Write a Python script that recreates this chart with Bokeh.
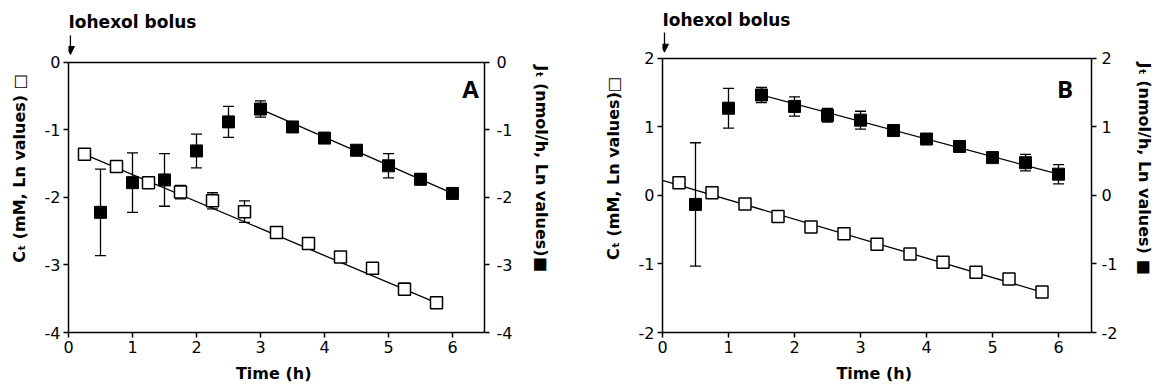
from bokeh.plotting import figure
from bokeh.models import (Range1d, LinearAxis, Whisker, TeeHead, ColumnDataSource,
                          Arrow, NormalHead, FixedTicker, Span, PrintfTickFormatter)
from bokeh.core.properties import value
from bokeh.layouts import row
from bokeh.embed import file_html
from bokeh.resources import INLINE

# ---------------- data ----------------
time_c = [0.25, 0.75, 1.25, 1.75, 2.25, 2.75, 3.25, 3.75, 4.25, 4.75, 5.25, 5.75]
time_j = [0.5, 1.0, 1.5, 2.0, 2.5, 3.0, 3.5, 4.0, 4.5, 5.0, 5.5, 6.0]

# Panel A
a_c = [-1.36, -1.54, -1.78, -1.92, -2.05, -2.21, -2.52, -2.68, -2.88, -3.05, -3.36, -3.56]
a_c_err = [0.03, 0.03, 0.03, 0.10, 0.12, 0.16, 0.07, 0.08, 0.03, 0.03, 0.09, 0.04]
a_j = [-2.22, -1.78, -1.74, -1.31, -0.88, -0.69, -0.955, -1.12, -1.30, -1.53, -1.73, -1.94]
a_j_err = [0.64, 0.44, 0.39, 0.25, 0.23, 0.12, 0.08, 0.04, 0.07, 0.18, 0.08, 0.03]
a_fit_c_x = [0.25, 5.75]
a_fit_c_y = [-1.36, -3.56]
a_fit_j_x = [3.0, 6.0]
a_fit_j_y = [-0.69, -1.94]

# Panel B
b_c = [0.187, 0.04, -0.124, -0.307, -0.46, -0.56, -0.71, -0.855, -0.973, -1.12, -1.22, -1.41]
b_c_err = [0.03, 0.03, 0.03, 0.03, 0.03, 0.03, 0.03, 0.03, 0.03, 0.03, 0.03, 0.05]
b_j = [-0.13, 1.274, 1.467, 1.30, 1.17, 1.10, 0.948, 0.824, 0.716, 0.553, 0.479, 0.311]
b_j_err = [0.90, 0.29, 0.11, 0.14, 0.10, 0.13, 0.07, 0.04, 0.03, 0.03, 0.12, 0.14]
b_fit_c_x = [0.0, 5.75]
b_fit_c_y = [0.22, -1.41]
b_fit_j_x = [1.5, 6.0]
b_fit_j_y = [1.467, 0.311]

x_ticks = [0, 1, 2, 3, 4, 5, 6]
a_y_ticks = [-4, -3, -2, -1, 0]
b_y_ticks = [-2, -1, 0, 1, 2]

FONT = "DejaVu Sans"


def style_axis(ax, label, label_standoff, tick_standoff):
    ax.axis_label = label
    ax.axis_label_text_font = FONT
    ax.axis_label_text_font_style = "bold"
    ax.axis_label_text_font_size = "16px"
    ax.axis_label_text_color = "black"
    ax.axis_label_standoff = label_standoff
    ax.major_label_text_font = FONT
    ax.major_label_text_font_size = "16px"
    ax.major_label_text_color = "black"
    ax.major_label_standoff = tick_standoff
    ax.axis_line_width = 1.5
    ax.axis_line_color = "black"
    ax.major_tick_line_width = 1.5
    ax.major_tick_line_color = "black"
    ax.major_tick_in = 0
    ax.major_tick_out = 5
    ax.minor_tick_line_color = None
    ax.formatter = PrintfTickFormatter(format="%d")


def make_panel(width, c, c_err, j, j_err, fcx, fcy, fjx, fjy, y_lo, y_top, y_hi, yticks,
               borders, left_label, right_label, lstand, rstand, rtick,
               letter, letter_xy, bolus_y, arrow_y):
    bl, br, bt, bb = borders
    p = figure(width=width, height=388, x_range=Range1d(0, 6.5),
               y_range=Range1d(y_lo, y_hi), output_backend="svg",
               toolbar_location=None, min_border_left=bl, min_border_right=br,
               min_border_top=bt, min_border_bottom=bb)
    p.xgrid.visible = False
    p.ygrid.visible = False
    p.outline_line_color = None
    p.background_fill_color = "white"
    p.border_fill_color = "white"

    p.xaxis.ticker = FixedTicker(ticks=x_ticks)
    p.yaxis.ticker = FixedTicker(ticks=yticks)
    style_axis(p.xaxis[0], "Time  (h)", 8, 3)
    style_axis(p.yaxis[0], left_label, lstand, 3)
    p.yaxis[0].bounds = (y_lo, y_top)

    rax = LinearAxis(ticker=FixedTicker(ticks=yticks), bounds=(y_lo, y_top))
    style_axis(rax, right_label, rstand, rtick)
    p.add_layout(rax, "right")

    # top frame line
    p.add_layout(Span(location=y_top, dimension="width", line_color="black",
                      line_width=1.5))

    # error bars
    src_c = ColumnDataSource(dict(x=time_c, y=c,
                                  u=[v + e for v, e in zip(c, c_err)],
                                  l=[v - e for v, e in zip(c, c_err)]))
    src_j = ColumnDataSource(dict(x=time_j, y=j,
                                  u=[v + e for v, e in zip(j, j_err)],
                                  l=[v - e for v, e in zip(j, j_err)]))
    for src in (src_c, src_j):
        w = Whisker(base="x", upper="u", lower="l", source=src, dimension="height",
                    line_width=1.3, line_color="black",
                    upper_head=TeeHead(size=11, line_width=1.3, line_color="black"),
                    lower_head=TeeHead(size=11, line_width=1.3, line_color="black"))
        p.add_layout(w)

    # fit lines
    p.line(fcx, fcy, line_color="black", line_width=1.3)
    p.line(fjx, fjy, line_color="black", line_width=1.3)

    # markers
    p.scatter("x", "y", source=src_j, marker="square", size=12,
              fill_color="black", line_color="black", line_width=1)
    p.scatter("x", "y", source=src_c, marker="square", size=12,
              fill_color="white", line_color="black", line_width=1.5)

    # panel letter
    p.text(x=[letter_xy[0]], y=[letter_xy[1]], text=[letter],
           text_font=value("Open Sans"), text_font_style="bold",
           text_font_size="24px", text_align="center",
           text_baseline="middle", text_color="black")

    # bolus annotation
    p.text(x=[0], y=[bolus_y], text=["Iohexol bolus"],
           text_font=value(FONT), text_font_style="bold",
           text_font_size="17px", text_align="left",
           text_baseline="middle", text_color="black")
    p.add_layout(Arrow(x_start=0.03, y_start=arrow_y[0], x_end=0.03, y_end=arrow_y[1],
                       line_width=1.3, line_color="black",
                       end=NormalHead(size=8, fill_color="black", line_color="black")))
    return p


pa = make_panel(580, a_c, a_c_err, a_j, a_j_err, a_fit_c_x, a_fit_c_y, a_fit_j_x, a_fit_j_y,
                -4, 0, 0.859, a_y_ticks, (68, 96, 4, 56),
                "C\u209c (mM, Ln values) \u25a1", "J\u209c (nmol/h, Ln values)\u25a0",
                13, 17, 7, "A", (6.28, -0.385), 0.597, (0.40, 0.119))

pb = make_panel(580, b_c, b_c_err, b_j, b_j_err, b_fit_c_x, b_fit_c_y, b_fit_j_x, b_fit_j_y,
                -2, 2, 2.788, b_y_ticks, (82, 69, 4, 56),
                "C\u209c (mM, Ln values)\u25a1", "J\u209c (nmol/h, Ln values) \u25a0",
                13, 15, 5, "B", (6.1, 1.562), 2.555, (2.38, 2.092))

layout = row(pa, pb)
open("out.html", "w").write(file_html(layout, INLINE))
